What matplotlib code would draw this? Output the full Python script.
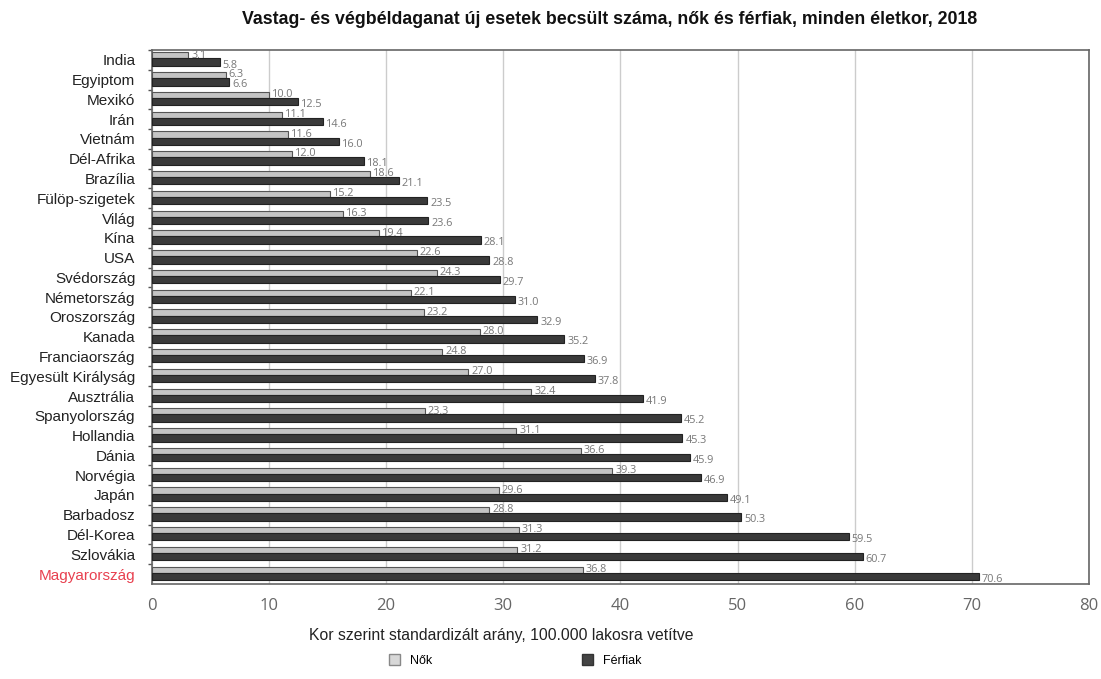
import numpy as np
import matplotlib
matplotlib.use('Agg')
import matplotlib.pyplot as plt
from matplotlib.patches import Patch

# data
countries = ['India', 'Egyiptom', 'Mexikó', 'Irán', 'Vietnám', 'Dél-Afrika', 'Brazília',
             'Fülöp-szigetek', 'Világ', 'Kína', 'USA', 'Svédország', 'Németország',
             'Oroszország', 'Kanada', 'Franciaország', 'Egyesült Királyság', 'Ausztrália',
             'Spanyolország', 'Hollandia', 'Dánia', 'Norvégia', 'Japán', 'Barbadosz',
             'Dél-Korea', 'Szlovákia', 'Magyarország']
women = [3.1, 6.3, 10.0, 11.1, 11.6, 12.0, 18.6, 15.2, 16.3, 19.4, 22.6, 24.3, 22.1,
         23.2, 28.0, 24.8, 27.0, 32.4, 23.3, 31.1, 36.6, 39.3, 29.6, 28.8, 31.3, 31.2, 36.8]
men = [5.8, 6.6, 12.5, 14.6, 16.0, 18.1, 21.1, 23.5, 23.6, 28.1, 28.8, 29.7, 31.0,
       32.9, 35.2, 36.9, 37.8, 41.9, 45.2, 45.3, 45.9, 46.9, 49.1, 50.3, 59.5, 60.7, 70.6]
highlight = 'Magyarország'

title = 'Vastag- és végbéldaganat új esetek becsült száma, nők és férfiak, minden életkor, 2018'
xlabel = 'Kor szerint standardizált arány, 100.000 lakosra vetítve'
legend_labels = ['Nők', 'Férfiak']

plt.rcParams['font.family'] = ['Liberation Sans', 'DejaVu Sans']

fig = plt.figure(figsize=(11.01, 6.79), dpi=100)
ax = fig.add_axes([0.138, 0.140, 0.851, 0.7864])

n = len(countries)
idx = np.arange(n)
h_w = 0.31
h_m = 0.37
y_w = idx + 0.12
y_m = y_w + h_w

ax.barh(y_w, women, height=h_w, align='edge', color='#c4c4c4', edgecolor='#555555', linewidth=0.8, zorder=3)
ax.barh(y_m, men, height=h_m, align='edge', color='#3a3a3a', edgecolor='#222222', linewidth=0.8, zorder=3)

lab_font = ['Open Sans', 'DejaVu Sans']
for i in range(n):
    ax.text(women[i] + 0.25, idx[i] + 0.26, '%.1f' % women[i], fontsize=7.8,
            color='#777777', va='center', ha='left', family=lab_font, zorder=4)
    ax.text(men[i] + 0.25, idx[i] + 0.76, '%.1f' % men[i], fontsize=7.8,
            color='#777777', va='center', ha='left', family=lab_font, zorder=4)

ax.set_xlim(0, 80)
ax.set_ylim(n, 0)
ax.set_xticks(np.arange(0, 81, 10))
ax.set_xticklabels([str(v) for v in range(0, 81, 10)], family=lab_font, fontsize=12, color='#666666')
ax.tick_params(axis='x', length=0, pad=10)

# category labels centred on groups, ticks on group boundaries
ax.set_yticks(idx, minor=True)
ax.set_yticks(idx + 0.5)
ax.set_yticklabels(countries, fontsize=11, color='#222222')
ax.tick_params(axis='y', which='major', length=0, pad=12)
ax.tick_params(axis='y', which='minor', length=3, color='#555555', width=1)
for t in ax.get_yticklabels():
    if t.get_text() == highlight:
        t.set_color('#e8404f')

ax.grid(axis='x', color='#cccccc', linewidth=1, zorder=0)
ax.set_axisbelow(True)
for s in ax.spines.values():
    s.set_color('#666666')
    s.set_linewidth(1.2)

fig.text(0.554, 0.971, title, ha='center', va='center', fontsize=12.8, fontweight='bold', color='#111111')
fig.text(0.455, 0.064, xlabel, ha='center', va='center', fontsize=11.3, color='#222222')

handles = [Patch(facecolor='#d8d8d8', edgecolor='#888888'), Patch(facecolor='#444444', edgecolor='#333333')]
leg = fig.legend(handles, legend_labels, loc='center', bbox_to_anchor=(0.468, 0.027), ncol=2,
                 frameon=False, fontsize=9, columnspacing=12, handlelength=0.9, handleheight=0.9)

fig.savefig('out.png', dpi=100)
